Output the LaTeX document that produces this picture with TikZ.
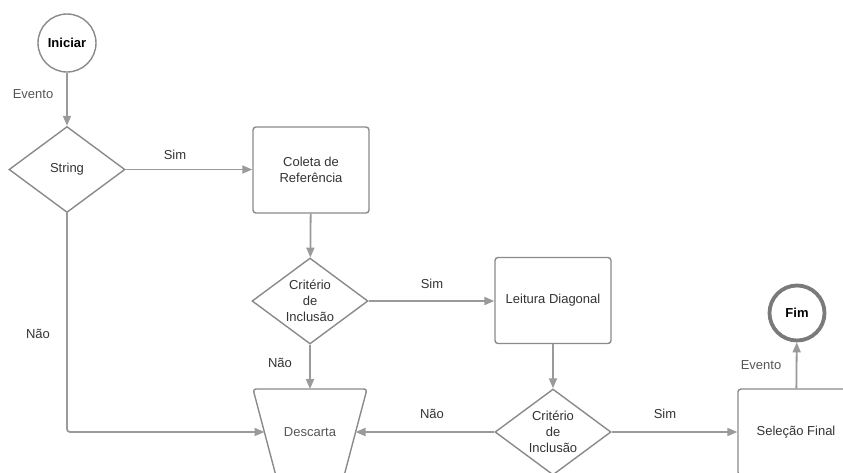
\documentclass[tikz,border=0pt]{standalone}
\usepackage{fontspec}
\setmainfont{Liberation Sans}
\usetikzlibrary{shapes.geometric,arrows.meta}
\definecolor{edgec}{HTML}{9A9A9A}
\definecolor{bordc}{HTML}{8A8A8A}
\definecolor{fimc}{HTML}{7A7A7A}
\definecolor{txtc}{HTML}{333333}
\definecolor{softc}{HTML}{555555}
\begin{document}
\begin{tikzpicture}[x=1pt,y=-1pt,
  font=\fontsize{13}{16}\selectfont, text=txtc,
  conn/.style={draw=edgec, line width=1.8pt, -{Triangle[length=10pt,width=8pt]}},
  proc/.style={draw=bordc, line width=1.4pt, rounded corners=3pt, minimum width=116pt, minimum height=86pt, align=center, inner sep=2pt},
  decide/.style={diamond, draw=bordc, line width=1.4pt, minimum width=116pt, minimum height=86pt, inner sep=0pt, aspect=1.35, align=center},
  term/.style={circle, draw=bordc, line width=1.4pt, minimum size=58pt, inner sep=0pt, font=\fontsize{13}{15}\selectfont\bfseries, text=black},
  outline/.style={draw=bordc, line width=1.4pt, rounded corners=3pt},
  lbl/.style={inner sep=0pt}]
\useasboundingbox (0,0) rectangle (843,472);
\clip (0,0) rectangle (843,472);
\node[term] (start) at (67,43) {Iniciar};
\node[decide] (str) at (67,169.5) {String};
\node[proc] (col) at (311,170) {Coleta de\\Referência};
\node[decide] (c1) at (310,301) {Critério\\de\\Inclusão};
\node[proc] (lei) at (553,300.5) {Leitura Diagonal};
\node[decide] (c2) at (553,432) {Critério\\de\\Inclusão};
% Descarta (inverted trapezoid)
\draw[outline] (253,389) -- (367,389) -- (344,476) -- (276,476) -- cycle;
\node[text=softc] (desc) at (310,432) {Descarta};
\coordinate (descN) at (310,389);
\coordinate (descW) at (264.5,432);
\coordinate (descE) at (355.5,432);
\node[proc] (sel) at (796,432) {Seleção Final};
\node[term, draw=fimc, line width=3.8pt, minimum size=55pt] (fim) at (797,313) {Fim};

\draw[conn] (start) -- (str);
\draw[conn] (str.east) -- (str.east -| col.west);
\draw[conn] (col) -- (c1);
\draw[conn] (c1.east) -- (c1.east -| lei.west);
\draw[conn] (lei) -- (c2);
\draw[conn] (c1) -- (descN);
\draw[conn] (c2) -- (descE);
\draw[conn] (c2) -- (sel);
\draw[conn] (sel) -- (fim);
\draw[conn, rounded corners=3pt] (str.south) |- (descW);

\node[lbl, text=softc] (l1) at (33,94) {Evento};
\node[lbl] (l2) at (175,155) {Sim};
\node[lbl] (l3) at (38,334) {Não};
\node[lbl] (l4) at (432,284) {Sim};
\node[lbl] (l5) at (280,363) {Não};
\node[lbl] (l6) at (432,414) {Não};
\node[lbl] (l7) at (665,414) {Sim};
\node[lbl, text=softc] (l8) at (761,365) {Evento};
\end{tikzpicture}
\end{document}
